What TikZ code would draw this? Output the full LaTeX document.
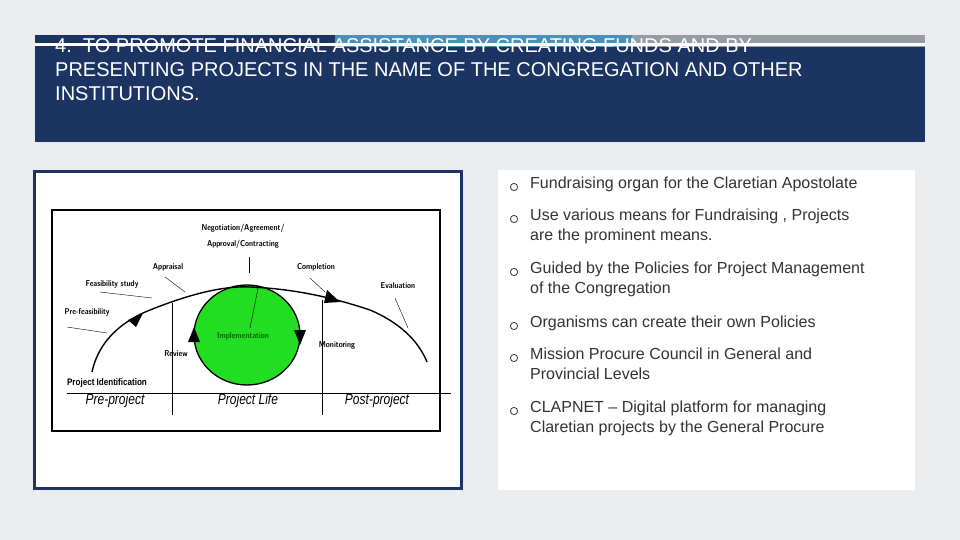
\documentclass[tikz,border=0pt]{standalone}
\usepackage{fontspec}
\setmainfont{Liberation Sans}
\usetikzlibrary{arrows.meta}
\definecolor{bg}{HTML}{EBECEE}
\definecolor{navy}{HTML}{1B3461}
\definecolor{lblue}{HTML}{4A90B8}
\definecolor{gbar}{HTML}{959CA4}
\definecolor{txt}{HTML}{333333}
\definecolor{impl}{HTML}{22DD22}
\tikzset{lab/.style={font=\fontsize{8.5}{9}\selectfont\sffamily\bfseries, inner sep=0pt, xscale=0.85},
  big/.style={font=\fontsize{15}{15}\selectfont\itshape, inner sep=0pt, xscale=0.8},
  lead/.style={black, line width=0.4pt},
  bul/.style={font=\fontsize{16}{19.5}\selectfont, text=txt, anchor=north west, inner sep=0pt, align=left},
  tit/.style={font=\fontsize{20}{24}\selectfont, text=white, anchor=north west, inner sep=0pt, align=left}}
\begin{document}
\begin{tikzpicture}[x=1pt,y=-1pt]
\fill[bg] (0,0) rectangle (960,540);
\useasboundingbox (0,0) rectangle (960,540);
% top bars
\fill[navy] (35,35) rectangle (335,47);
\fill[lblue] (335,35) rectangle (632,47);
\fill[gbar] (632,35) rectangle (925,47);
\fill[navy] (35,47) rectangle (925,142);
\fill[white] (35,43) rectangle (925,46);
\node[tit] (title) at (55,38) {4.\ \ TO PROMOTE FINANCIAL ASSISTANCE BY CREATING FUNDS AND BY\\PRESENTING PROJECTS IN THE NAME OF THE CONGREGATION AND OTHER\\INSTITUTIONS.};
% left panel
\draw[navy, line width=3pt, fill=white] (34.5,171.5) rectangle (461.5,488.5);
\draw[black, line width=1.2pt] (52,210) rectangle (440,431);
\draw[line width=0.6pt] (67,393) -- (451,393);
\draw[line width=0.6pt] (172,303) -- (172,415);
\draw[line width=0.6pt] (322,300) -- (322,415);
% circle
\draw[fill=impl, line width=1.3pt] (247,335) ellipse [x radius=53, y radius=50];
\coordinate (cl) at (194,333);
\fill (188,342) -- (200,342) -- (194,327) -- cycle;
\fill (294,330) -- (306,330) -- (300,345) -- cycle;
% main curve
\draw[line width=1.4pt] (92,372) .. controls (100,335) and (130,318) .. (150,310)
  .. controls (200,290) and (230,286) .. (250,287)
  .. controls (300,289) and (340,300) .. (370,310)
  .. controls (405,325) and (420,345) .. (427,362);
\fill (128,320) -- (143,313) -- (136,327) -- cycle;
\fill (327,290) -- (340,302) -- (324,303) -- cycle;
% labels
\node[lab] (neg) at (243,228) {Negotiation/Agreement/};
\node[lab] (app) at (243,244) {Approval/Contracting};
\draw[lead] (249,257) -- (249,273);
\node[lab] (appr) at (168,267) {Appraisal};
\draw[lead] (165,277) -- (185,292);
\node[lab] (feas) at (112,284) {Feasibility study};
\draw[lead] (100,292) -- (152,298);
\node[lab] (pref) at (87,312) {Pre-feasibility};
\draw[lead] (67,327) -- (107,333);
\node[lab] (comp) at (316,267) {Completion};
\draw[lead] (310,278) -- (325,292);
\node[lab] (eval) at (398,286) {Evaluation};
\draw[lead] (395,298) -- (408,328);
\node[lab, text=green!40!black] (imp) at (243,336) {Implementation};
\draw[lead] (258,288) -- (250,328);
\node[lab] (rev) at (176,354) {Review};
\node[lab] (mon) at (337,345) {Monitoring};
\node[lab, font=\fontsize{9.5}{10}\selectfont\bfseries] (pid) at (107,383) {Project Identification};
\node[big] (pre) at (115,401) {Pre-project};
\node[big] (life) at (248,401) {Project Life};
\node[big] (post) at (377,401) {Post-project};
% right panel
\fill[white] (498,170) rectangle (915,490);
\foreach \y/\t [count=\i] in {177/{Fundraising organ for the Claretian Apostolate},
  209/{Use various means for Fundraising , Projects\\are the prominent means.},
  262/{Guided by the Policies for Project Management\\of the Congregation},
  316/{Organisms can create their own Policies},
  348/{Mission Procure Council in General and\\Provincial Levels},
  401/{CLAPNET -- Digital platform for managing\\Claretian projects by the General Procure}}{
  \draw[txt, line width=0.8pt] (514,\y+10) circle (3.6);
  \node[bul] (b\i) at (530,\y) {\t};
}
\end{tikzpicture}
\end{document}
